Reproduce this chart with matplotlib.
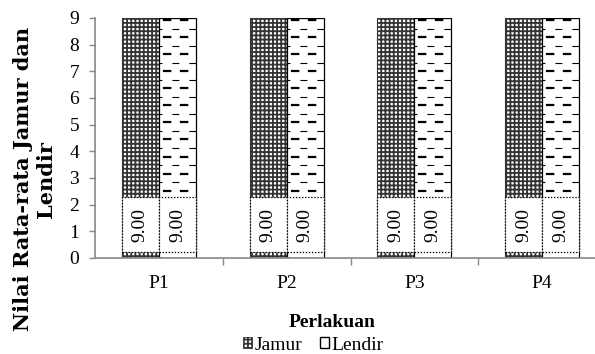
import matplotlib.pyplot as plt
import numpy as np
from matplotlib.patches import Patch, Rectangle

plt.rcParams['font.family'] = ['Liberation Serif', 'DejaVu Serif']
plt.rcParams['hatch.linewidth'] = 1.3
plt.rcParams['lines.scale_dashes'] = False

categories = ['P1', 'P2', 'P3', 'P4']
jamur = [9, 9, 9, 9]
lendir = [9, 9, 9, 9]
labels_jamur = ['9.00', '9.00', '9.00', '9.00']
labels_lendir = ['9.00', '9.00', '9.00', '9.00']

fig = plt.figure(figsize=(5.95, 3.54), dpi=100)
ax = fig.add_axes([0.1597, 0.2712, 0.8588, 0.678])

x = np.arange(len(categories))
w = 0.29
b1 = ax.bar(x - w / 2, jamur, w, color='white', edgecolor='#333333', hatch='++++', lw=0.8, zorder=2)
b2 = ax.bar(x + w / 2, lendir, w, color='white', edgecolor='black', lw=0.9, zorder=2)

# dashed texture for Lendir bars
for rect in b2:
    x0, x1, top = rect.get_x(), rect.get_x() + rect.get_width(), rect.get_height()
    bold_rows = np.arange(top - 0.075, 0, -0.64)
    thin_rows = bold_rows - 0.32
    ax.hlines(bold_rows, x0, x1, colors='black', lw=1.6, linestyles=[(9.4, (6.1, 6.1))], zorder=3)
    ax.hlines(thin_rows[thin_rows > 0], x0, x1, colors='black', lw=0.8, linestyles=[(2.9, (5.0, 7.2))], zorder=3)

# value label boxes
for bars, labs in [(b1, labels_jamur), (b2, labels_lendir)]:
    for rect, lab in zip(bars, labs):
        ax.add_patch(Rectangle((rect.get_x(), 0.22), rect.get_width(), 2.07, fc='white',
                               ec='black', ls=(0, (1, 1.2)), lw=0.9, zorder=4))
        ax.text(rect.get_x() + rect.get_width() / 2, 1.25, lab, rotation=90,
                ha='center', va='center', fontsize=14, zorder=5)

ax.set_xlim(-0.5, len(categories) - 0.5)
ax.set_ylim(0, 9)
ax.set_yticks(range(0, 10))
ax.set_xticks(x)
ax.set_xticklabels(categories)
ax.set_xticks(np.arange(len(categories)) + 0.5, minor=True)
ax.tick_params(axis='x', which='major', length=0, labelsize=14, pad=12)
ax.tick_params(axis='x', which='minor', length=5, width=1, color='#888888')
ax.tick_params(axis='y', labelsize=14, length=4.5, width=1, color='#888888', pad=7)
for s in ['top', 'right']:
    ax.spines[s].set_visible(False)
for s in ['left', 'bottom']:
    ax.spines[s].set_color('#888888')
    ax.spines[s].set_linewidth(1.2)

fig.text(0.058, 0.494, 'Nilai Rata-rata Jamur dan\nLendir', rotation=90, ha='center', va='center',
         fontsize=15, fontweight='bold', family=['DejaVu Serif'], linespacing=1.15)
fig.text(0.558, 0.09, 'Perlakuan', ha='center', va='center', fontsize=14, fontweight='bold')

handles = [Patch(fc='white', ec='#333333', hatch='++++', lw=0.6),
           Patch(fc='white', ec='black', lw=1.0)]
fig.legend(handles, ['Jamur', 'Lendir'], loc='center', bbox_to_anchor=(0.527, 0.025),
           ncol=2, frameon=False, fontsize=14, handlelength=0.45, handleheight=0.45,
           handletextpad=0.15, columnspacing=0.9, borderpad=0)

fig.savefig('out.png', dpi=100)
